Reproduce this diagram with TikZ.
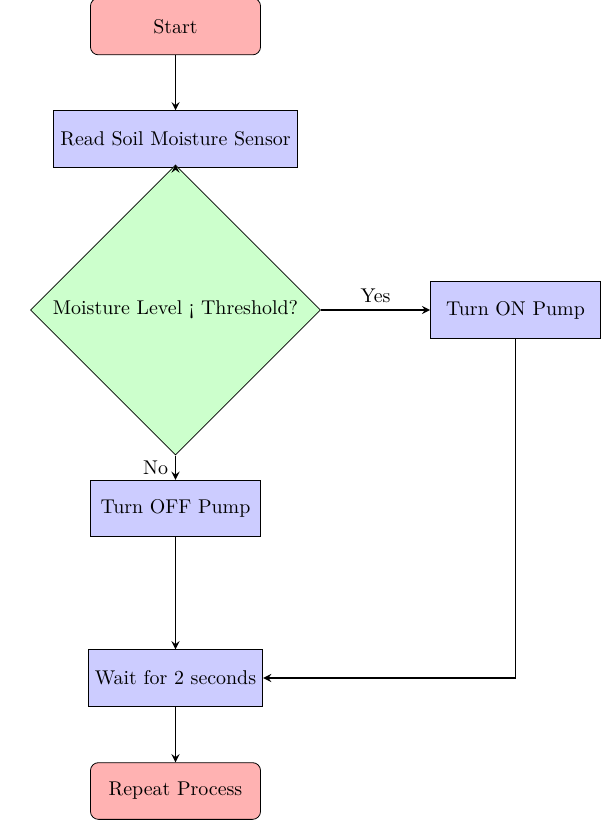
\documentclass[tikz,border=0pt]{standalone}
\usetikzlibrary{shapes.geometric,arrows}
\begin{document}
\begin{tikzpicture}[x=0.01764cm,y=-0.01764cm,
  startstop/.style={rectangle, rounded corners, minimum width=3cm, minimum height=1cm, text centered, draw=black, fill=red!30},
  process/.style={rectangle, minimum width=3cm, minimum height=1cm, text centered, draw=black, fill=blue!20},
  decision/.style={diamond, shape aspect=1, text centered, draw=black, fill=green!20},
  arrow/.style={thick,->,>=stealth}]
\useasboundingbox (0,0) rectangle (605,820);
\node[startstop] (start) at (175.5,26.5) {Start};
\node[process] (read) at (175.5,139) {Read Soil Moisture Sensor};
\node[decision] (dec) at (175.5,310) {Moisture Level ¡ Threshold?};
\node[process] (on) at (515.5,310) {Turn ON Pump};
\node[process] (off) at (175.5,508.5) {Turn OFF Pump};
\node[process] (wait) at (175.5,678) {Wait for 2 seconds};
\node[startstop] (repeat) at (175.5,791) {Repeat Process};
\draw[arrow] (start) -- (read);
\draw[arrow] (read) -- (dec);
\draw[arrow] (dec) -- node[above] {Yes} (on);
\draw[arrow] (dec) -- node[left] {No} (off);
\draw[arrow] (off) -- (wait);
\draw[arrow] (on.south) |- (wait.east);
\draw[arrow] (wait) -- (repeat);
\end{tikzpicture}
\end{document}
